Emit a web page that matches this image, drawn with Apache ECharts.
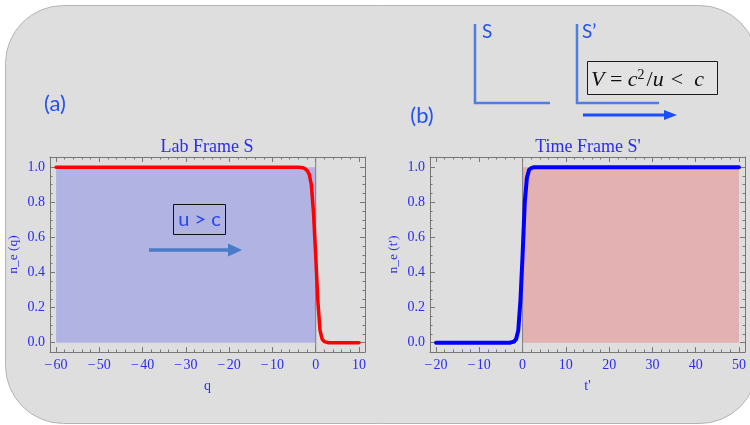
<!DOCTYPE html>
<html>
<head>
<meta charset="utf-8">
<script src="https://cdn.jsdelivr.net/npm/echarts@6/dist/echarts.min.js"></script>
<style>html,body{margin:0;padding:0;background:#fff}#c{width:750px;height:425px}</style>
</head>
<body>
<div id="c"></div>
<script>
// ---- data ----
const qValues   = [-60, -4, -3, -2.5, -2, -1.5, -1, -0.5, 0, 0.5, 1, 1.5, 2, 3, 10];
const neQ       = [1, 1, 0.997, 0.992, 0.982, 0.96, 0.9, 0.74, 0.5, 0.24, 0.07, 0.02, 0.006, 0, 0];
const tValues   = [-20, -3, -2, -1.5, -1, -0.5, 0, 0.5, 1, 1.5, 2, 2.5, 3, 50];
const neT       = [0, 0, 0.006, 0.02, 0.07, 0.24, 0.5, 0.8, 0.94, 0.985, 0.995, 0.999, 1, 1];
const labFillX  = [-60, 0];
const labFillY  = [1, 1];
const timeFillX = [0, 50];
const timeFillY = [1, 1];
const xTicksLab  = [-60, -50, -40, -30, -20, -10, 0, 10];
const xTicksTime = [-20, -10, 0, 10, 20, 30, 40, 50];
const yTicks     = [0, 0.2, 0.4, 0.6, 0.8, 1.0];
const xRangeLab  = [-61.4, 11.4];
const xRangeTime = [-21.4, 51.4];
const yRange     = [-0.053, 1.058];

function minorOf(major, step, n) {
  const out = [];
  for (let i = 0; i < major.length - 1; i++)
    for (let k = 1; k < n; k++) out.push(+(major[i] + k * step / n).toFixed(4));
  return out;
}
const xMinorLab  = minorOf(xTicksLab, 10, 5);
const xMinorTime = minorOf(xTicksTime, 10, 5);
const yMinor     = minorOf(yTicks, 0.2, 4);

const pair = (xs, ys) => xs.map((x, i) => [x, ys[i]]);

const SERIF = "'Liberation Serif', 'DejaVu Serif', serif";
const BLUE = '#2b2bf2';
const FRAME = '#777777';

const grids = [
  {left: 50, top: 157, width: 315, height: 195},
  {left: 50, top: 157, width: 315, height: 195},
  {left: 430, top: 157, width: 315, height: 195},
  {left: 430, top: 157, width: 315, height: 195}
];

function xAx(grid, pos, range, ticks, major, labels, name) {
  return {
    type: 'value', gridIndex: grid, position: pos, min: range[0], max: range[1],
    splitLine: {show: false},
    axisLine: {show: major, onZero: false, lineStyle: {color: FRAME, width: 1}},
    axisTick: {show: true, inside: true, length: major ? 5 : 2.5, customValues: ticks,
               lineStyle: {color: FRAME, width: 1}},
    axisLabel: {show: labels, customValues: ticks, margin: 6, color: BLUE,
                fontFamily: SERIF, fontSize: 14,
                formatter: v => (v < 0 ? '\u2212\u200A' + Math.abs(v) : String(v))},
    name: name || '', nameLocation: 'middle', nameGap: 27,
    nameTextStyle: {color: BLUE, fontFamily: SERIF, fontSize: 14}
  };
}
function yAx(grid, pos, ticks, major, labels, name) {
  return {
    type: 'value', gridIndex: grid, position: pos, min: yRange[0], max: yRange[1],
    splitLine: {show: false},
    axisLine: {show: major, onZero: false, lineStyle: {color: FRAME, width: 1}},
    axisTick: {show: true, inside: true, length: major ? 5 : 2.5, customValues: ticks,
               lineStyle: {color: FRAME, width: 1}},
    axisLabel: {show: labels, customValues: ticks, margin: 5, color: BLUE,
                fontFamily: SERIF, fontSize: 14, formatter: v => v.toFixed(1)},
    name: name || '', nameLocation: 'middle', nameGap: 30, nameRotate: 90,
    nameTextStyle: {color: BLUE, fontFamily: SERIF, fontSize: 13.5}
  };
}

const xAxis = [
  xAx(0, 'bottom', xRangeLab, xTicksLab, true, true, 'q'),
  xAx(0, 'top', xRangeLab, xTicksLab, true, false),
  xAx(1, 'bottom', xRangeLab, xMinorLab, false, false),
  xAx(1, 'top', xRangeLab, xMinorLab, false, false),
  xAx(2, 'bottom', xRangeTime, xTicksTime, true, true, "t'"),
  xAx(2, 'top', xRangeTime, xTicksTime, true, false),
  xAx(3, 'bottom', xRangeTime, xMinorTime, false, false),
  xAx(3, 'top', xRangeTime, xMinorTime, false, false)
];
const yAxis = [
  yAx(0, 'left', yTicks, true, true, 'n_e (q)'),
  yAx(0, 'right', yTicks, true, false),
  yAx(1, 'left', yMinor, false, false),
  yAx(1, 'right', yMinor, false, false),
  yAx(2, 'left', yTicks, true, true, "n_e (t')"),
  yAx(2, 'right', yTicks, true, false),
  yAx(3, 'left', yMinor, false, false),
  yAx(3, 'right', yMinor, false, false)
];

const base = {type: 'line', symbol: 'none', silent: true, animation: false};
const series = [
  Object.assign({}, base, {xAxisIndex: 0, yAxisIndex: 0, data: pair(labFillX, labFillY),
    lineStyle: {width: 0}, areaStyle: {color: '#b1b3e3', opacity: 1, origin: 'auto'}, z: 1}),
  Object.assign({}, base, {xAxisIndex: 0, yAxisIndex: 0, data: [[0, yRange[0]], [0, yRange[1]]],
    lineStyle: {color: '#7d7d7d', width: 1}, z: 2}),
  Object.assign({}, base, {xAxisIndex: 0, yAxisIndex: 0, data: pair(qValues, neQ),
    lineStyle: {color: '#ff0000', width: 3.5, cap: 'round', join: 'round'}, z: 3}),
  Object.assign({}, base, {xAxisIndex: 4, yAxisIndex: 4, data: pair(timeFillX, timeFillY),
    lineStyle: {width: 0}, areaStyle: {color: '#e3b1b1', opacity: 1, origin: 'auto'}, z: 1}),
  Object.assign({}, base, {xAxisIndex: 4, yAxisIndex: 4, data: [[0, yRange[0]], [0, yRange[1]]],
    lineStyle: {color: '#7d7d7d', width: 1}, z: 2}),
  Object.assign({}, base, {xAxisIndex: 4, yAxisIndex: 4, data: pair(tValues, neT),
    lineStyle: {color: '#0000ff', width: 4, cap: 'round', join: 'round'}, z: 3})
];

const SANS = "Lato, 'Open Sans', sans-serif";
const MATH = {fontFamily: SERIF, fontSize: 22, fill: '#111'};
const graphic = [
  {type: 'rect', z: -10, shape: {x: 5.5, y: 5.5, width: 752, height: 418, r: 58},
   style: {fill: '#dedede', stroke: '#b4b4b4', lineWidth: 1}},
  {type: 'text', x: 207, y: 147, style: {text: 'Lab Frame S', fill: BLUE, font: '18px ' + SERIF, align: 'center', verticalAlign: 'middle'}},
  {type: 'text', x: 588, y: 147, style: {text: "Time Frame S'", fill: BLUE, font: '18px ' + SERIF, align: 'center', verticalAlign: 'middle'}},
  {type: 'text', x: 55, y: 104, style: {text: '(a)', fill: '#2552ee', font: '22px ' + SANS, align: 'center', verticalAlign: 'middle'}},
  {type: 'text', x: 422, y: 116, style: {text: '(b)', fill: '#2552ee', font: '22px ' + SANS, align: 'center', verticalAlign: 'middle'}},
  {type: 'polyline', shape: {points: [[475, 24], [475, 103], [550, 103]]}, style: {stroke: '#4c7fe0', lineWidth: 2.5, fill: null}},
  {type: 'polyline', shape: {points: [[577, 24], [577, 103], [659, 103]]}, style: {stroke: '#4c7fe0', lineWidth: 2.5, fill: null}},
  {type: 'text', x: 482, y: 32, style: {text: 'S', fill: '#2552ee', font: '19px ' + SANS, align: 'left', verticalAlign: 'middle'}},
  {type: 'text', x: 582, y: 32, style: {text: 'S\u2019', fill: '#2552ee', font: '19px ' + SANS, align: 'left', verticalAlign: 'middle'}},
  {type: 'rect', shape: {x: 587.5, y: 61.5, width: 130, height: 33}, style: {fill: '#e2e2e2', stroke: '#1a1a1a', lineWidth: 1}},
  {type: 'text', x: 591, y: 80, style: {
    text: '{i|V}{n| = }{i|c}{s|2}{n|/}{i|u}{g|<}{i|c}', align: 'left', verticalAlign: 'middle',
    rich: {
      i: Object.assign({fontStyle: 'italic'}, MATH),
      n: Object.assign({}, MATH),
      g: Object.assign({padding: [0, 11, 0, 7]}, MATH),
      s: {fontFamily: SERIF, fontSize: 14, fill: '#111', verticalAlign: 'top', padding: [0, 2, 9, 0]}
    }}},
  {type: 'line', shape: {x1: 583, y1: 115, x2: 666, y2: 115}, style: {stroke: '#1c4cff', lineWidth: 3}},
  {type: 'polygon', shape: {points: [[664, 110], [677, 115], [664, 120]]}, style: {fill: '#1c4cff'}},
  {type: 'rect', shape: {x: 173.5, y: 204.5, width: 52, height: 30}, style: {fill: null, stroke: '#111', lineWidth: 1}, z: 10},
  {type: 'text', x: 199.5, y: 219.5, z: 10, style: {text: 'u > c', fill: '#2448ee', font: '20px ' + SANS, align: 'center', verticalAlign: 'middle'}},
  {type: 'line', z: 10, shape: {x1: 149, y1: 250, x2: 230, y2: 250}, style: {stroke: '#4a7bc8', lineWidth: 3.5}},
  {type: 'polygon', z: 10, shape: {points: [[228, 243.5], [242, 250], [228, 256.5]]}, style: {fill: '#4a7bc8'}}
];

const chart = echarts.init(document.getElementById('c'), null, {renderer: 'canvas'});
chart.setOption({
  backgroundColor: '#ffffff',
  animation: false,
  grid: grids,
  xAxis: xAxis,
  yAxis: yAxis,
  series: series,
  graphic: graphic
});
</script>
</body>
</html>
